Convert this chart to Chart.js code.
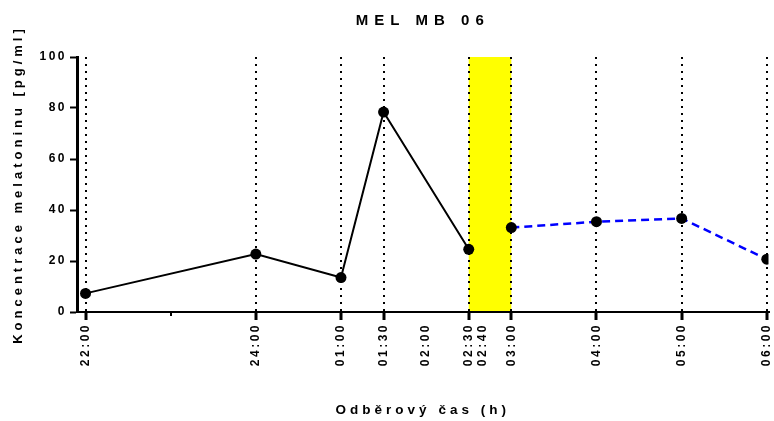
<!DOCTYPE html>
<html lang="cs">
<head>
<meta charset="utf-8">
<title>MEL MB 06</title>
<script src="https://cdn.jsdelivr.net/npm/chart.js@4.4.1/dist/chart.umd.min.js"></script>
<style>
  html, body { margin: 0; padding: 0; background: #fff; }
  canvas { display: block; }
</style>
</head>
<body>
<canvas id="mel" width="774" height="421"></canvas>
<script>
// Sampling times are hours counted from 22:00.
const HOURS_NIGHT = [0, 2, 3, 3.5, 4.5];
const MELATONIN_NIGHT = [7.3, 22.7, 13.5, 78.4, 24.6];
const HOURS_MORNING = [5, 6, 7, 8];
const MELATONIN_MORNING = [33.1, 35.4, 36.7, 20.7];

// Time axis ticks and their labels
const TICK_HOURS = [0, 1, 2, 3, 3.5, 4, 4.5, 4 + 40 / 60, 5, 6, 7, 8];
const TICK_LABELS = ['22:00', '', '24:00', '01:00', '01:30', '02:00', '02:30', '02:40', '03:00', '04:00', '05:00', '06:00'];
const GRID_HOURS = [0, 2, 3, 3.5, 4.5, 5, 6, 7, 8];
const MINOR_HOURS = [1];

// Highlighted interval (02:30 - 03:00)
const BAND_HOURS = [4.5, 5];

const TITLE = 'MEL MB 06';
const X_TITLE = 'Odběrový čas (h)';
const Y_TITLE = 'Koncentrace melatoninu [pg/ml]';

const FONT = "'Liberation Sans', Arial, sans-serif";
const TICK_SPACING = '2.5px';
const AXIS_TITLE_SPACING = '4px';
const NONE = 'rgba(0,0,0,0)';

const hasHour = (list, v) => list.some(h => Math.abs(h - v) < 1e-6);

// Letter-spaced text: tick labels, axis titles and the chart heading
const spacedText = {
  id: 'spacedText',
  beforeLayout(chart) { chart.ctx.letterSpacing = TICK_SPACING; },
  beforeDraw(chart) {
    chart.ctx.letterSpacing = TICK_SPACING;
    Object.values(chart.scales).forEach(scale => {
      if (scale._spacedTitle) return;
      const drawTitle = scale.drawTitle;
      scale.drawTitle = function () {
        const c = this.ctx;
        c.save();
        c.letterSpacing = AXIS_TITLE_SPACING;
        drawTitle.call(this);
        c.restore();
      };
      scale._spacedTitle = true;
    });
  },
  afterDraw(chart) {
    const { ctx, chartArea } = chart;
    ctx.save();
    ctx.letterSpacing = '6px';
    ctx.font = 'bold 15px ' + FONT;
    ctx.fillStyle = '#000';
    ctx.textAlign = 'center';
    ctx.textBaseline = 'middle';
    ctx.fillText(TITLE, (chartArea.left + chartArea.right) / 2, 21);
    ctx.restore();
  }
};

// Yellow highlight behind the grid and the data
const band = {
  id: 'band',
  beforeDraw(chart) {
    const { ctx, scales: { x, y } } = chart;
    const x0 = x.getPixelForValue(BAND_HOURS[0]);
    const x1 = x.getPixelForValue(BAND_HOURS[1]);
    const yTop = y.getPixelForValue(y.max);
    const yBot = y.getPixelForValue(y.min);
    ctx.save();
    ctx.fillStyle = '#ffff00';
    ctx.fillRect(x0, yTop, x1 - x0, yBot - yTop);
    ctx.restore();
  }
};

new Chart(document.getElementById('mel'), {
  type: 'line',
  data: {
    datasets: [
      {
        data: HOURS_NIGHT.map((h, i) => ({ x: h, y: MELATONIN_NIGHT[i] })),
        borderColor: '#000',
        borderWidth: 2,
        pointRadius: 5.5,
        pointBackgroundColor: '#000',
        pointBorderColor: '#000',
        pointBorderWidth: 0,
        tension: 0
      },
      {
        data: HOURS_MORNING.map((h, i) => ({ x: h, y: MELATONIN_MORNING[i] })),
        borderColor: '#0000ff',
        borderWidth: 2.5,
        borderDash: [8, 5],
        pointRadius: 5.5,
        pointBackgroundColor: '#000',
        pointBorderColor: '#000',
        pointBorderWidth: 0,
        tension: 0
      }
    ]
  },
  options: {
    responsive: false,
    animation: false,
    devicePixelRatio: 1,
    layout: { padding: { top: 57, right: 2, bottom: 0, left: 0 } },
    plugins: {
      legend: { display: false },
      title: { display: false },
      tooltip: { enabled: false }
    },
    scales: {
      x: {
        type: 'linear',
        min: -0.1,
        max: 8.02,
        afterBuildTicks(scale) { scale.ticks = TICK_HOURS.map(v => ({ value: v })); },
        afterFit(scale) { scale.height = 109; scale.paddingLeft = 0; scale.paddingRight = 0; },
        ticks: {
          autoSkip: false,
          minRotation: 90,
          maxRotation: 90,
          padding: 3,
          color: '#000',
          font: { family: FONT, size: 12, weight: 'bold' },
          callback: (v, i) => TICK_LABELS[i]
        },
        grid: {
          drawOnChartArea: true,
          color: c => hasHour(GRID_HOURS, c.tick.value) ? '#000' : NONE,
          lineWidth: 2,
          tickLength: 8,
          tickWidth: c => hasHour(MINOR_HOURS, c.tick.value) ? 2 : 3,
          tickColor: c => (hasHour(GRID_HOURS, c.tick.value) || hasHour(MINOR_HOURS, c.tick.value)) ? '#000' : NONE,
          tickBorderDash: c => hasHour(MINOR_HOURS, c.tick.value) ? [3, 20] : []
        },
        border: { display: true, color: '#000', width: 2, dash: [2, 5] },
        title: {
          display: true,
          text: X_TITLE,
          color: '#000',
          font: { family: FONT, size: 13.5, weight: 'bold' },
          padding: { top: 0, bottom: 3 }
        }
      },
      y: {
        min: 0,
        max: 100,
        afterFit(scale) { scale.width = 77; scale.paddingTop = 0; scale.paddingBottom = 0; },
        ticks: {
          stepSize: 20,
          padding: 3,
          color: '#000',
          font: { family: FONT, size: 12, weight: 'bold' }
        },
        grid: {
          drawOnChartArea: false,
          drawTicks: true,
          tickLength: 7,
          tickWidth: 2,
          tickColor: '#000'
        },
        border: { display: true, color: '#000', width: 3 },
        title: {
          display: true,
          text: Y_TITLE,
          color: '#000',
          font: { family: FONT, size: 13, weight: 'bold' },
          padding: { top: 11, bottom: 0 }
        }
      }
    }
  },
  plugins: [band, spacedText]
});
</script>
</body>
</html>
